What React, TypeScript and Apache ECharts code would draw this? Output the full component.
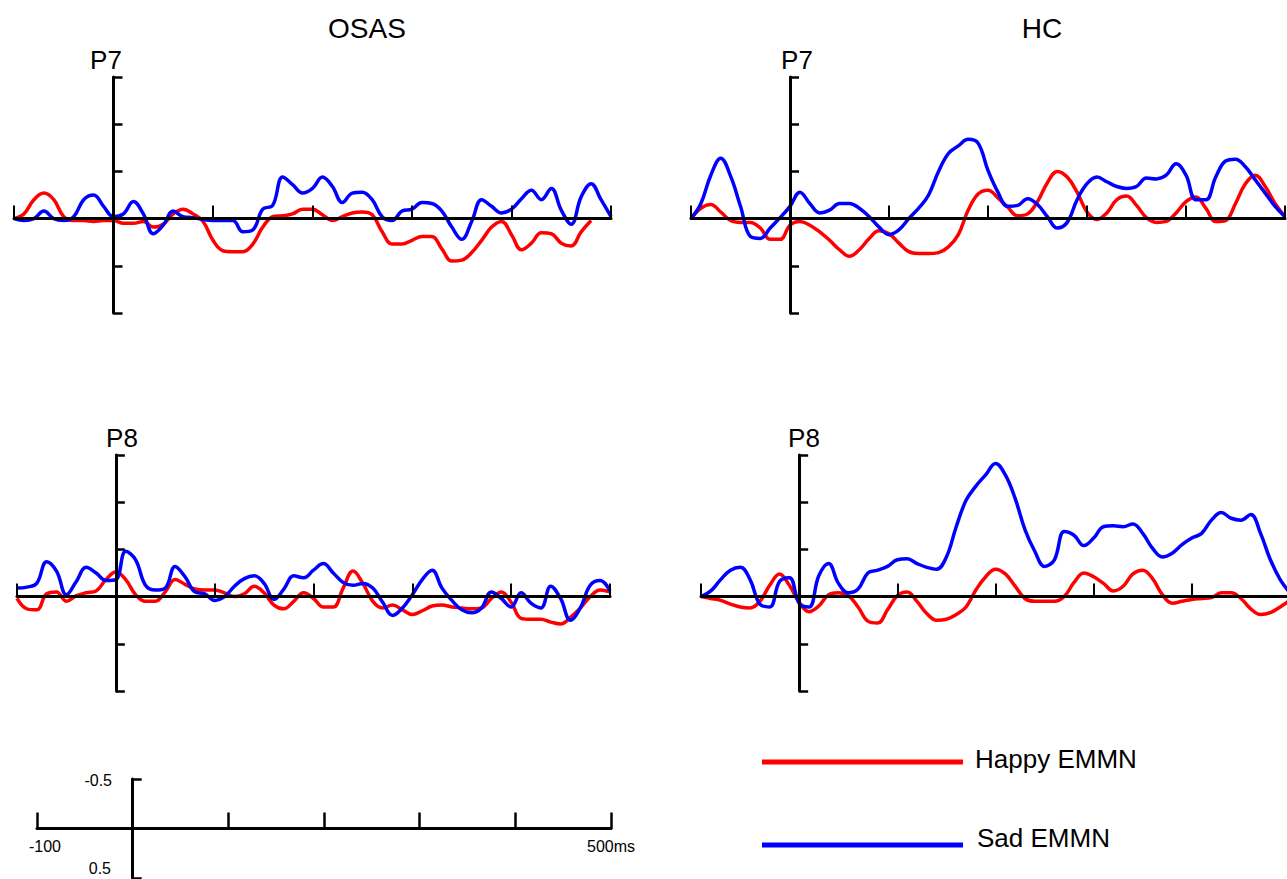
import React, { useEffect, useRef } from "react";
import * as echarts from "echarts";

// time axis (ms), sampled every 10 ms
const TIME_MS = [
  -100, -90, -80, -70, -60, -50, -40, -30, -20, -10,
  0, 10, 20, 30, 40, 50, 60, 70, 80, 90,
  100, 110, 120, 130, 140, 150, 160, 170, 180, 190,
  200, 210, 220, 230, 240, 250, 260, 270, 280, 290,
  300, 310, 320, 330, 340, 350, 360, 370, 380, 390,
  400, 410, 420, 430, 440, 450, 460, 470, 480, 490,
  500,
];

// amplitudes in µV (negative plotted upward)
const OSAS_P7_HAPPY = [
  0, -0.05, -0.2, -0.27, -0.2, -0.02, 0.02, 0.02, 0.03, 0.02,
  0.02, 0.05, 0.05, 0.03, 0.09, 0.06, -0.05, -0.1, -0.05, 0.03,
  0.23, 0.34, 0.35, 0.35, 0.27, 0.09, -0.02, -0.03, -0.05, -0.1,
  -0.1, -0.04, 0.02, -0.02, -0.06, -0.07, -0.04, 0.14, 0.27, 0.27,
  0.23, 0.19, 0.19, 0.32, 0.45, 0.44, 0.36, 0.23, 0.09, 0.03,
  0.17, 0.33, 0.26, 0.15, 0.16, 0.26, 0.29, 0.14, 0.02, null,
  null,
];
const OSAS_P7_SAD = [
  0, 0.02, 0, -0.08, 0, 0.02, -0.02, -0.2, -0.25, -0.13,
  -0.02, -0.05, -0.18, -0.05, 0.16, 0.07, -0.08, -0.02, -0.01, 0.01,
  0.02, 0.02, 0.02, 0.14, 0.12, -0.1, -0.14, -0.44, -0.36, -0.27,
  -0.32, -0.44, -0.34, -0.17, -0.27, -0.28, -0.2, -0.02, 0.02, -0.08,
  -0.1, -0.17, -0.16, -0.08, 0.09, 0.22, 0.03, -0.2, -0.13, -0.06,
  -0.1, -0.21, -0.3, -0.2, -0.32, -0.09, 0.06, -0.23, -0.37, -0.2,
  -0.02,
];
const HC_P7_HAPPY = [
  0, -0.11, -0.15, -0.07, 0.02, 0.04, 0.04, 0.1, 0.22, 0.22,
  0.07, 0.03, 0.07, 0.14, 0.23, 0.33, 0.4, 0.33, 0.21, 0.13,
  0.16, 0.26, 0.35, 0.37, 0.37, 0.36, 0.3, 0.17, -0.09, -0.26,
  -0.3, -0.22, -0.12, -0.03, -0.05, -0.18, -0.38, -0.5, -0.44, -0.28,
  -0.07, 0.01, -0.06, -0.2, -0.24, -0.14, -0.01, 0.04, 0.03, -0.06,
  -0.18, -0.23, -0.11, 0.03, 0.02, -0.16, -0.37, -0.46, -0.34, -0.16,
  -0.02,
];
const HC_P7_SAD = [
  0, -0.16, -0.46, -0.64, -0.45, -0.13, 0.19, 0.21, 0.1, -0.01,
  -0.13, -0.28, -0.16, -0.06, -0.09, -0.16, -0.16, -0.11, -0.02, 0.09,
  0.17, 0.12, 0, -0.11, -0.25, -0.5, -0.69, -0.77, -0.84, -0.8,
  -0.51, -0.28, -0.13, -0.14, -0.21, -0.15, -0.02, 0.1, 0.04, -0.2,
  -0.37, -0.44, -0.39, -0.34, -0.32, -0.34, -0.43, -0.42, -0.46, -0.58,
  -0.46, -0.2, -0.2, -0.44, -0.61, -0.63, -0.55, -0.41, -0.27, -0.13,
  -0.02,
];
const OSAS_P8_HAPPY = [
  0.02, 0.13, 0.14, -0.03, -0.05, 0.05, -0.01, -0.04, -0.06, -0.18,
  -0.26, -0.18, -0.02, 0.05, 0.05, -0.05, -0.18, -0.13, -0.08, -0.07,
  -0.07, -0.04, 0, -0.03, -0.11, -0.04, 0.09, 0.13, 0.05, -0.04,
  0.02, 0.11, 0.11, -0.09, -0.27, -0.14, 0.05, 0.12, 0.09, 0.14,
  0.19, 0.15, 0.1, 0.09, 0.11, 0.12, 0.13, 0.12, 0.02, -0.05,
  0.06, 0.23, 0.24, 0.24, 0.27, 0.29, 0.22, 0.12, 0, -0.07,
  -0.05,
];
const OSAS_P8_SAD = [
  -0.09, -0.1, -0.14, -0.37, -0.27, -0.02, -0.16, -0.31, -0.25, -0.17,
  -0.18, -0.48, -0.39, -0.12, -0.07, -0.09, -0.32, -0.21, -0.05, -0.03,
  0.04, 0, -0.11, -0.19, -0.22, -0.14, 0.03, -0.08, -0.22, -0.2,
  -0.28, -0.35, -0.25, -0.15, -0.12, -0.14, -0.09, 0.06, 0.2, 0.12,
  -0.02, -0.18, -0.28, -0.09, 0.04, 0.14, 0.17, 0.12, -0.05, 0.02,
  0.11, -0.04, 0.07, 0.12, -0.11, 0.02, 0.25, 0.12, -0.12, -0.17,
  -0.06,
];
const HC_P8_HAPPY = [
  0, 0.02, 0.04, 0.08, 0.11, 0.12, 0.05, -0.12, -0.24, -0.12,
  0.06, 0.16, 0.1, -0.02, -0.04, -0.01, 0.11, 0.26, 0.28, 0.14,
  -0.01, -0.05, 0.05, 0.18, 0.25, 0.24, 0.19, 0.11, -0.07, -0.21,
  -0.29, -0.24, -0.11, 0.02, 0.05, 0.05, 0.05, 0, -0.15, -0.25,
  -0.21, -0.14, -0.06, -0.11, -0.24, -0.28, -0.19, -0.02, 0.07, 0.05,
  0.03, 0.02, 0.01, -0.04, -0.04, 0.02, 0.13, 0.19, 0.17, 0.11,
  0.04,
];
const HC_P8_SAD = [
  0, -0.06, -0.18, -0.28, -0.31, -0.18, 0.08, 0.11, -0.16, -0.2,
  0.07, 0.11, -0.22, -0.35, -0.14, -0.04, -0.08, -0.25, -0.28, -0.32,
  -0.39, -0.4, -0.35, -0.31, -0.29, -0.42, -0.74, -1.02, -1.17, -1.29,
  -1.41, -1.29, -1.04, -0.71, -0.48, -0.32, -0.39, -0.69, -0.65, -0.54,
  -0.62, -0.74, -0.75, -0.74, -0.77, -0.67, -0.51, -0.42, -0.46, -0.55,
  -0.62, -0.67, -0.81, -0.89, -0.83, -0.81, -0.87, -0.67, -0.39, -0.18,
  -0.04,
];

const GROUPS = ["OSAS", "HC"];
const ELECTRODES = ["P7", "P8"];
const CONDITIONS = ["Happy EMMN", "Sad EMMN"];
const SCALE_X_LABELS = ["-100", "500ms"];
const SCALE_Y_LABELS = ["-0.5", "0.5"];

const RED = "#ff0000";
const BLUE = "#0000ff";
const FONT = "'Liberation Sans', Arial, Helvetica, sans-serif";

function pairs(values: (number | null)[]) {
  return TIME_MS.map((t, i) => [t, values[i]]);
}

export default function App() {
  const ref = useRef<HTMLDivElement>(null);

  useEffect(() => {
    if (!ref.current) return;
    const chart = echarts.init(ref.current, undefined, { renderer: "svg" });

    const grids = [
      { left: 14, top: 77, width: 597, height: 236, outerBoundsMode: "none" },
      { left: 691, top: 77, width: 594, height: 236, outerBoundsMode: "none" },
      { left: 17, top: 455, width: 593, height: 236, outerBoundsMode: "none" },
      { left: 701, top: 455, width: 589, height: 236, outerBoundsMode: "none" },
      { left: 37, top: 779, width: 574, height: 99, outerBoundsMode: "none" },
    ];

    const panelX = (i: number) => ({
      gridIndex: i,
      type: "value",
      min: -100,
      max: 500,
      interval: 100,
      z: 5,
      axisLine: { onZero: true, lineStyle: { color: "#000", width: 3 } },
      axisTick: { show: true, inside: true, length: 13, lineStyle: { color: "#000", width: 2 } },
      axisLabel: { show: false },
      splitLine: { show: false },
    });
    const panelY = (i: number) => ({
      gridIndex: i,
      type: "value",
      inverse: true,
      min: -1.5,
      max: 1.0,
      interval: 0.5,
      z: 5,
      axisLine: { show: true, onZero: true, lineStyle: { color: "#000", width: 3 } },
      axisTick: { show: true, inside: true, length: 9, lineStyle: { color: "#000", width: 2.5 } },
      axisLabel: { show: false },
      splitLine: { show: false },
    });

    const xAxes: any[] = [0, 1, 2, 3].map(panelX);
    const yAxes: any[] = [0, 1, 2, 3].map(panelY);

    xAxes.push({
      gridIndex: 4,
      type: "value",
      min: -100,
      max: 500,
      interval: 100,
      axisLine: { onZero: true, lineStyle: { color: "#000", width: 3 } },
      axisTick: { show: true, inside: true, length: 16, lineStyle: { color: "#000", width: 2.5 } },
      axisLabel: { show: false },
      splitLine: { show: false },
    });
    yAxes.push({
      gridIndex: 4,
      type: "value",
      inverse: true,
      min: -0.5,
      max: 0.5,
      interval: 0.5,
      axisLine: { show: true, onZero: true, lineStyle: { color: "#000", width: 3 } },
      axisTick: { show: true, inside: true, length: 9, lineStyle: { color: "#000", width: 2.5 } },
      axisLabel: { show: false },
      splitLine: { show: false },
    });

    const panels = [
      { happy: OSAS_P7_HAPPY, sad: OSAS_P7_SAD },
      { happy: HC_P7_HAPPY, sad: HC_P7_SAD },
      { happy: OSAS_P8_HAPPY, sad: OSAS_P8_SAD },
      { happy: HC_P8_HAPPY, sad: HC_P8_SAD },
    ];

    const series: any[] = [];
    panels.forEach((p, i) => {
      series.push({
        name: CONDITIONS[0],
        type: "line",
        xAxisIndex: i,
        yAxisIndex: i,
        data: pairs(p.happy),
        smooth: 0.4,
        showSymbol: false,
        connectNulls: false,
        lineStyle: { color: RED, width: 3.5 },
        itemStyle: { color: RED },
        z: 2,
      });
      series.push({
        name: CONDITIONS[1],
        type: "line",
        xAxisIndex: i,
        yAxisIndex: i,
        data: pairs(p.sad),
        smooth: 0.4,
        showSymbol: false,
        lineStyle: { color: BLUE, width: 3.5 },
        itemStyle: { color: BLUE },
        z: 3,
      });
    });

    const txt = (text: string, x: number, y: number, size: number, align = "center") => ({
      type: "text",
      x,
      y,
      style: {
        text,
        fill: "#000",
        font: `${size}px ${FONT}`,
        align,
        verticalAlign: "middle",
      },
    });

    const graphic: any[] = [
      txt(GROUPS[0], 367, 28, 28),
      txt(GROUPS[1], 1042, 28, 28),
      txt(ELECTRODES[0], 106, 60, 26),
      txt(ELECTRODES[0], 797, 60, 26),
      txt(ELECTRODES[1], 122, 438, 26),
      txt(ELECTRODES[1], 804, 438, 26),
      {
        type: "line",
        shape: { x1: 762, y1: 762, x2: 963, y2: 762 },
        style: { stroke: RED, lineWidth: 5 },
      },
      {
        type: "line",
        shape: { x1: 762, y1: 845, x2: 963, y2: 845 },
        style: { stroke: BLUE, lineWidth: 5 },
      },
      txt(CONDITIONS[0], 975, 759, 26, "left"),
      txt(CONDITIONS[1], 977, 838, 26, "left"),
      txt(SCALE_Y_LABELS[0], 112, 780, 16, "right"),
      txt(SCALE_Y_LABELS[1], 111, 868, 16, "right"),
      txt(SCALE_X_LABELS[0], 45, 846, 16),
      txt(SCALE_X_LABELS[1], 611, 846, 16),
    ];

    chart.setOption({
      animation: false,
      backgroundColor: "#ffffff",
      grid: grids,
      xAxis: xAxes,
      yAxis: yAxes,
      series,
      graphic,
    });

    return () => chart.dispose();
  }, []);

  return (
    <div
      ref={ref}
      style={{ position: "fixed", left: 0, top: 0, width: 1287, height: 879, background: "#fff" }}
    />
  );
}
